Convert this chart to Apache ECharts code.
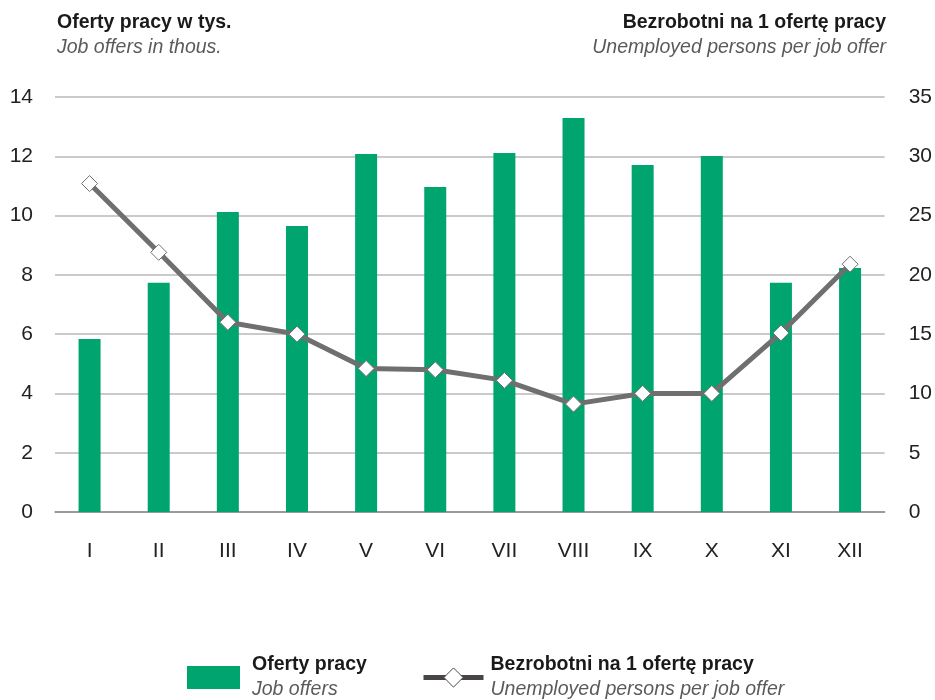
<!DOCTYPE html>
<html lang="pl">
<head>
<meta charset="UTF-8">
<title>Oferty pracy</title>
<script src="https://cdn.jsdelivr.net/npm/echarts@6/dist/echarts.min.js"></script>
<style>
  html, body { margin: 0; padding: 0; background: #fff; }
  #chart { width: 935px; height: 700px; }
</style>
</head>
<body>
<div id="chart"></div>
<script>
const months = ['I', 'II', 'III', 'IV', 'V', 'VI', 'VII', 'VIII', 'IX', 'X', 'XI', 'XII'];
// oferty pracy w tys.
const jobOffers = [5.84, 7.73, 10.12, 9.65, 12.08, 10.96, 12.11, 13.29, 11.71, 12.01, 7.73, 8.23];
// bezrobotni na 1 ofertę pracy
const perOffer = [27.7, 21.9, 16.0, 15.0, 12.1, 12.0, 11.1, 9.1, 10.0, 10.0, 15.1, 20.9];

const FONT = "'Liberation Sans Narrow', 'Arial Narrow', 'Liberation Sans', Arial, sans-serif";
const chart = echarts.init(document.getElementById('chart'));

const boldText = { fontFamily: FONT, fontSize: 19.5, fontWeight: 'bold', color: '#1a1a1a' };
const italicText = { fontFamily: FONT, fontSize: 19.5, fontWeight: 'normal', fontStyle: 'italic', color: '#5a5a5a' };

const legendRich = {
  a: Object.assign({ lineHeight: 25 }, boldText),
  b: Object.assign({ lineHeight: 25 }, italicText)
};

chart.setOption({
  animation: false,
  textStyle: { fontFamily: FONT },
  title: [
    { text: 'Oferty pracy w tys.', left: 52, top: 8, textStyle: boldText },
    { text: 'Job offers in thous.', left: 52, top: 33, textStyle: italicText },
    { text: 'Bezrobotni na 1 ofertę pracy', right: 44, top: 8, textStyle: boldText },
    { text: 'Unemployed persons per job offer', right: 44, top: 33, textStyle: italicText }
  ],
  legend: [
    {
      data: [{ name: 'Oferty pracy', icon: 'rect' }], left: 182, top: 650,
      itemWidth: 53, itemHeight: 23, itemGap: 0,
      formatter: () => '{a|Oferty pracy}\n{b|Job offers}',
      textStyle: { rich: legendRich, padding: [0, 0, 0, 7] }
    },
    {
      data: [{
        name: 'Bezrobotni na 1 ofertę pracy',
        lineStyle: { color: '#4a4545', width: 5 },
        itemStyle: { color: '#ffffff', borderColor: '#4a4545', borderWidth: 1 }
      }],
      left: 416, top: 650,
      itemWidth: 60, itemHeight: 24, itemGap: 0,
      formatter: () => '{a|Bezrobotni na 1 ofertę pracy}\n{b|Unemployed persons per job offer}',
      textStyle: { rich: legendRich, padding: [0, 0, 0, 2] }
    }
  ],
  grid: { left: 55, right: 50, top: 97, bottom: 188 },
  xAxis: {
    type: 'category', data: months,
    axisTick: { show: false },
    axisLine: { lineStyle: { color: '#8c8c8c', width: 1.5 } },
    axisLabel: { fontFamily: FONT, fontSize: 21, color: '#222', margin: 29 }
  },
  yAxis: [
    {
      type: 'value', min: 0, max: 14, interval: 2,
      axisLabel: { fontFamily: FONT, fontSize: 21, color: '#222', margin: 22 },
      splitLine: { lineStyle: { color: '#b8b8b8', width: 1.5 } },
      axisLine: { show: false }, axisTick: { show: false }
    },
    {
      type: 'value', min: 0, max: 35, interval: 5,
      axisLabel: { fontFamily: FONT, fontSize: 21, color: '#222', margin: 24 },
      splitLine: { show: false },
      axisLine: { show: false }, axisTick: { show: false }
    }
  ],
  series: [
    {
      name: 'Oferty pracy', type: 'bar', data: jobOffers,
      barWidth: 22,
      itemStyle: { color: '#00A46F' }
    },
    {
      name: 'Bezrobotni na 1 ofertę pracy', type: 'line', data: perOffer,
      yAxisIndex: 1,
      symbol: 'diamond', symbolSize: 16,
      lineStyle: { color: '#6f6f6f', width: 5 },
      itemStyle: { color: '#ffffff', borderColor: '#6f6f6f', borderWidth: 1 },
      z: 5
    }
  ]
});
</script>
</body>
</html>
